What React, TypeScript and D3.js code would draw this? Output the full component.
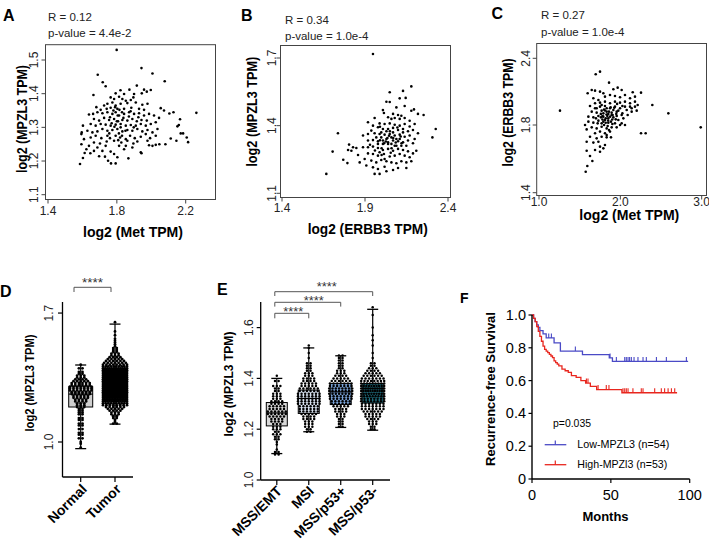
import React from 'react';
import * as d3 from 'd3';

const FONT = "'Liberation Sans', Arial, Helvetica, sans-serif";

// ---------------- Panel A: log2(Met TPM) vs log2(MPZL3 TPM)
const aXTicks = [1.4, 1.8, 2.2];
const aYTicks = [1.1, 1.2, 1.3, 1.4, 1.5];
const metVsMpzl3: [number, number][] = [
  [1.799,1.530],[1.943,1.476],[2.007,1.460],[1.689,1.456],[2.078,1.437],[1.718,1.434],[1.735,1.422],[1.916,1.424],
  [1.821,1.410],[1.873,1.412],[1.997,1.411],[1.958,1.412],[1.664,1.396],[1.974,1.406],[1.945,1.401],[1.900,1.399],
  [1.793,1.401],[1.842,1.399],[1.764,1.389],[1.784,1.384],[1.813,1.391],[1.832,1.384],[1.852,1.379],[1.881,1.381],
  [1.896,1.389],[1.774,1.374],[1.745,1.370],[1.726,1.365],[1.793,1.365],[1.822,1.370],[1.861,1.372],[1.910,1.374],
  [1.948,1.367],[1.978,1.370],[1.764,1.358],[1.706,1.352],[1.681,1.360],[2.055,1.357],[2.074,1.350],[1.803,1.355],
  [1.842,1.355],[1.884,1.358],[1.929,1.355],[1.958,1.352],[1.741,1.355],[1.638,1.338],[1.662,1.340],[1.687,1.345],
  [1.716,1.342],[1.745,1.345],[1.774,1.340],[1.793,1.345],[1.813,1.335],[1.842,1.340],[1.871,1.345],[1.900,1.340],
  [1.929,1.342],[1.958,1.335],[1.987,1.340],[2.016,1.335],[2.045,1.328],[2.105,1.341],[2.129,1.345],[2.262,1.343],
  [2.167,1.324],[1.667,1.325],[1.697,1.320],[1.726,1.328],[1.755,1.322],[1.784,1.325],[1.807,1.318],[1.832,1.322],
  [1.861,1.320],[1.890,1.325],[1.916,1.318],[1.943,1.322],[1.974,1.320],[1.997,1.310],[2.026,1.315],[1.603,1.305],
  [1.648,1.310],[1.677,1.305],[1.706,1.310],[1.735,1.308],[1.764,1.305],[1.793,1.308],[1.822,1.310],[1.852,1.305],
  [1.881,1.307],[1.910,1.305],[1.939,1.310],[1.968,1.305],[2.160,1.307],[1.596,1.285],[1.594,1.280],[1.629,1.290],
  [1.658,1.285],[1.687,1.288],[1.716,1.295],[1.745,1.290],[1.774,1.292],[1.803,1.295],[1.832,1.288],[1.861,1.292],
  [1.890,1.290],[1.919,1.295],[1.948,1.288],[1.978,1.292],[2.007,1.285],[2.036,1.295],[2.152,1.303],[2.171,1.282],
  [2.185,1.282],[1.609,1.265],[1.648,1.270],[1.677,1.275],[1.710,1.268],[1.745,1.275],[1.793,1.275],[1.819,1.270],
  [1.852,1.265],[1.877,1.275],[1.904,1.268],[1.939,1.272],[1.968,1.280],[1.993,1.268],[2.026,1.275],[2.113,1.267],
  [2.206,1.270],[1.594,1.250],[1.667,1.255],[1.702,1.252],[1.741,1.258],[1.784,1.260],[1.826,1.255],[1.861,1.260],
  [1.896,1.252],[1.919,1.258],[1.978,1.260],[2.146,1.260],[2.214,1.256],[1.623,1.235],[1.638,1.245],[1.687,1.240],
  [1.735,1.245],[1.813,1.245],[1.852,1.245],[1.890,1.240],[1.939,1.226],[1.943,1.223],[1.987,1.247],[2.007,1.245],
  [2.026,1.248],[2.047,1.250],[2.082,1.250],[1.613,1.224],[1.646,1.223],[1.697,1.214],[1.731,1.213],[1.749,1.201],
  [1.766,1.193],[1.793,1.193],[1.803,1.211],[1.867,1.208],[1.603,1.209],[1.586,1.191],[1.667,1.230],[1.764,1.228],
  [1.842,1.235],[1.716,1.230],[1.784,1.221],[1.805,1.335],[1.822,1.300],[1.800,1.318],[1.786,1.302],[1.760,1.330],
  [1.838,1.328],[1.812,1.282],[1.780,1.350],[1.830,1.345],[1.756,1.282],[1.870,1.332],[1.898,1.300],[1.925,1.330],
  [1.790,1.360],[1.815,1.352],[1.770,1.312],[1.850,1.290],[1.808,1.262],[1.830,1.275],[1.880,1.348],[1.760,1.268]
];

// ---------------- Panel B: log2(ERBB3 TPM) vs log2(MPZL3 TPM)
const bXTicks = [1.4, 1.9, 2.4];
const bYTicks = [1.1, 1.4, 1.7];
const erbb3VsMpzl3: [number, number][] = [
  [1.948,1.718],[2.179,1.574],[2.129,1.554],[2.049,1.548],[2.145,1.523],[2.109,1.521],[2.029,1.506],[2.049,1.505],
  [2.139,1.487],[2.089,1.481],[2.195,1.472],[2.179,1.466],[2.008,1.469],[2.014,1.456],[2.219,1.452],[2.253,1.447],
  [2.069,1.452],[2.099,1.447],[2.119,1.444],[1.958,1.434],[2.039,1.437],[2.059,1.430],[2.079,1.434],[2.109,1.430],
  [2.139,1.434],[2.169,1.422],[2.199,1.407],[1.918,1.415],[1.988,1.410],[2.018,1.407],[2.049,1.410],[2.079,1.404],
  [2.109,1.400],[2.139,1.407],[2.169,1.396],[2.326,1.385],[1.948,1.400],[1.978,1.393],[2.008,1.385],[2.039,1.385],
  [2.069,1.390],[2.099,1.381],[2.129,1.385],[2.159,1.375],[2.189,1.381],[2.219,1.366],[1.737,1.366],[1.888,1.356],
  [1.918,1.363],[1.958,1.366],[1.988,1.363],[2.018,1.360],[2.049,1.363],[2.079,1.356],[2.109,1.360],[2.139,1.351],
  [2.169,1.356],[2.199,1.341],[2.306,1.348],[1.918,1.334],[1.948,1.336],[1.978,1.331],[2.008,1.334],[2.039,1.326],
  [2.069,1.334],[2.099,1.331],[2.129,1.326],[2.159,1.334],[2.189,1.322],[1.804,1.316],[1.828,1.304],[1.848,1.301],
  [1.818,1.289],[1.798,1.292],[1.858,1.270],[1.888,1.304],[1.918,1.304],[1.948,1.307],[1.978,1.301],[2.008,1.292],
  [2.039,1.297],[2.069,1.289],[2.099,1.297],[2.129,1.292],[2.209,1.289],[2.189,1.277],[1.705,1.285],[1.918,1.277],
  [1.948,1.274],[1.978,1.267],[2.014,1.274],[2.049,1.263],[2.079,1.267],[2.109,1.274],[2.139,1.267],[2.169,1.260],
  [1.769,1.249],[1.794,1.234],[1.868,1.237],[1.898,1.252],[1.938,1.245],[1.968,1.237],[1.998,1.248],[2.029,1.242],
  [2.059,1.237],[2.089,1.233],[2.119,1.242],[2.149,1.237],[2.179,1.242],[1.908,1.223],[1.948,1.215],[1.978,1.208],
  [2.018,1.218],[2.069,1.203],[2.099,1.212],[2.149,1.212],[1.958,1.186],[1.988,1.186],[2.029,1.198],[1.667,1.186],
  [1.998,1.370],[2.029,1.375],[2.059,1.348],[2.089,1.341],[2.029,1.341],[2.008,1.319],[2.059,1.319],[2.089,1.311],
  [1.978,1.319],[2.119,1.311],[2.149,1.311],[1.998,1.348],[2.039,1.319],[2.069,1.370],[2.109,1.341],[1.938,1.378],
  [1.968,1.348],[2.129,1.370],[2.079,1.311],[2.018,1.252],[1.988,1.282],[2.159,1.286],[2.045,1.355],[2.025,1.330],
  [2.060,1.300],[2.000,1.300],[2.085,1.325],[2.115,1.352],[1.990,1.395],[2.055,1.280],[1.960,1.290],[2.095,1.392],
  [2.035,1.345],[2.015,1.322],[2.070,1.345],[1.990,1.335],[2.050,1.375],[2.000,1.270],[2.120,1.322],[1.930,1.315]
];

// ---------------- Panel C: log2(Met TPM) vs log2(ERBB3 TPM)
const cXTicks = [1.0, 2.0, 3.0];
const cYTicks = [1.4, 1.8, 2.4];
const metVsErbb3: [number, number][] = [
  [1.258,1.929],[1.697,2.256],[1.750,2.280],[1.861,2.181],[1.598,2.085],[1.648,2.115],[1.689,2.109],[1.750,2.100],
  [1.791,2.085],[1.914,2.121],[1.967,2.136],[2.016,2.115],[2.152,2.094],[2.254,2.091],[1.811,2.055],[1.873,2.070],
  [1.934,2.061],[1.996,2.049],[2.057,2.070],[2.119,2.040],[2.180,2.055],[1.668,2.040],[1.730,2.025],[1.689,1.995],
  [1.750,2.001],[1.811,2.010],[1.873,1.995],[1.934,2.010],[1.996,2.001],[2.057,2.010],[2.119,1.995],[2.180,2.010],
  [2.213,1.980],[2.393,1.980],[1.627,1.971],[1.689,1.950],[1.750,1.965],[1.811,1.971],[1.873,1.950],[1.934,1.965],
  [1.996,1.950],[2.057,1.965],[2.139,1.950],[2.201,1.929],[1.648,1.920],[1.709,1.911],[1.770,1.929],[1.832,1.920],
  [1.893,1.911],[1.955,1.920],[2.025,1.905],[2.090,1.890],[2.139,1.920],[2.590,1.905],[1.607,1.875],[1.668,1.869],
  [1.730,1.881],[1.791,1.875],[1.852,1.860],[1.914,1.869],[1.975,1.845],[2.037,1.860],[1.607,1.830],[1.668,1.821],
  [1.730,1.839],[1.791,1.830],[1.852,1.821],[1.934,1.815],[1.996,1.800],[2.057,1.800],[1.586,1.774],[1.648,1.786],
  [1.709,1.780],[1.770,1.790],[1.832,1.780],[1.893,1.786],[1.750,1.761],[1.811,1.751],[1.689,1.751],[1.627,1.731],
  [1.709,1.721],[1.770,1.731],[1.832,1.727],[1.885,1.727],[2.254,1.751],[2.311,1.751],[2.988,1.786],[1.586,1.701],
  [1.668,1.696],[1.730,1.701],[1.811,1.682],[1.750,1.672],[1.791,1.662],[1.689,1.652],[1.586,1.648],[1.750,1.642],
  [1.627,1.617],[1.656,1.587],[1.594,1.558],[1.574,1.524],[1.832,1.741],[1.873,1.761],[1.955,1.786],[2.016,1.815],
  [1.566,1.800],[1.770,1.815],[1.811,1.845],[1.893,1.890],[1.955,1.881],[2.016,1.890],[2.078,1.935],[2.119,1.965],
  [2.180,1.965],[1.832,1.950],[1.770,1.980],[1.709,1.950],[1.791,1.905],[1.852,1.899],[1.914,1.935],[1.820,1.860],
  [1.885,1.830],[1.943,1.851],[1.762,1.869],[1.844,1.794],[1.902,1.809],[1.975,1.929],[2.025,1.971],[1.721,1.815],
  [1.800,1.940],[1.860,1.920],[1.780,1.850],[1.840,1.880],[1.900,1.850],[1.820,1.820],[1.760,1.900],[1.880,1.960],
  [1.950,1.900],[1.700,1.860],[1.860,1.770],[1.800,1.800],[1.830,1.895],[1.875,1.875],[1.810,1.930],[1.850,1.840],
  [1.905,1.890],[1.780,1.880],[1.925,1.955],[1.960,1.990]
];

// ---------------- Panel D: Normal vs Tumor
const dGroups = ['Normal', 'Tumor'];
const dYTicks = [1.0, 1.7];
const dMin = [0.964, 1.097];
const dQ1 = [1.19, 1.26];
const dMed = [1.26, 1.32];
const dQ3 = [1.30, 1.38];
const dMax = [1.418, 1.64];
const dNormalBins: [number, number][] = [
  [1.42,1],[1.40,2],[1.38,2],[1.37,2],[1.36,3],[1.35,3],[1.34,4],[1.33,5],[1.32,6],[1.31,6],[1.30,7],[1.29,7],
  [1.28,7],[1.27,6],[1.26,6],[1.25,5],[1.24,5],[1.23,4],[1.22,4],[1.21,3],[1.20,3],[1.19,3],[1.18,2],[1.17,2],
  [1.16,2],[1.15,2],[1.13,2],[1.12,2],[1.10,2],[1.09,2],[1.07,2],[1.05,2],[1.04,2],[1.02,2],[1.00,1],[0.99,1],[0.97,1]
];
const dTumorBins: [number, number][] = [
  [1.10,2],[1.11,1],[1.12,1],[1.13,2],[1.14,2],[1.15,3],[1.16,3],[1.17,4],[1.18,5],[1.19,6],[1.20,8],[1.21,10],
  [1.22,12],[1.23,14],[1.24,16],[1.25,18],[1.26,20],[1.27,22],[1.28,24],[1.29,25],[1.30,26],[1.31,26],[1.32,26],
  [1.33,25],[1.34,24],[1.35,22],[1.36,20],[1.37,18],[1.38,16],[1.39,14],[1.40,12],[1.41,10],[1.42,8],[1.43,7],
  [1.44,6],[1.45,5],[1.46,4],[1.47,3],[1.48,3],[1.49,2],[1.50,2],[1.51,2],[1.52,1],[1.53,1],[1.54,1],[1.55,1],
  [1.56,1],[1.58,1],[1.60,1],[1.65,1]
];

// ---------------- Panel E: subtypes
const eGroups = ['MSS/EMT', 'MSI', 'MSS/p53+', 'MSS/p53-'];
const eYTicks = [1.0, 1.2, 1.4, 1.6];
const eMin = [1.104, 1.19, 1.207, 1.196];
const eQ1 = [1.213, 1.262, 1.297, 1.303];
const eMed = [1.264, 1.321, 1.347, 1.36];
const eQ3 = [1.305, 1.354, 1.38, 1.38];
const eMax = [1.40, 1.52, 1.489, 1.672];
const eFills = ['#d9d9d9', '#dce6f4', '#7aa3d8', '#23788a'];
const eEmtBins: [number, number][] = [
  [1.41,1],[1.39,2],[1.37,3],[1.36,2],[1.35,2],[1.34,3],[1.33,3],[1.32,3],[1.31,4],[1.30,4],[1.29,5],[1.28,5],
  [1.27,6],[1.26,6],[1.25,5],[1.24,4],[1.23,4],[1.22,3],[1.21,3],[1.20,3],[1.19,2],[1.18,3],[1.17,2],[1.16,2],
  [1.15,1],[1.14,1],[1.12,1],[1.11,2],[1.10,2]
];
const eMsiBins: [number, number][] = [
  [1.53,1],[1.52,1],[1.50,1],[1.48,1],[1.46,2],[1.45,2],[1.44,2],[1.43,2],[1.42,3],[1.41,3],[1.40,4],[1.39,4],
  [1.38,5],[1.37,5],[1.36,6],[1.35,6],[1.34,7],[1.33,7],[1.32,7],[1.31,7],[1.30,7],[1.29,6],[1.28,6],[1.27,6],
  [1.26,5],[1.25,4],[1.24,4],[1.23,3],[1.22,3],[1.21,3],[1.20,2],[1.19,2]
];
const eP53PosBins: [number, number][] = [
  [1.49,2],[1.48,2],[1.47,2],[1.46,2],[1.45,2],[1.44,2],[1.43,3],[1.42,3],[1.41,4],[1.40,5],[1.39,6],[1.38,7],
  [1.37,7],[1.36,8],[1.35,8],[1.34,8],[1.33,7],[1.32,7],[1.31,6],[1.30,6],[1.29,5],[1.28,4],[1.27,4],[1.26,3],
  [1.25,3],[1.24,2],[1.23,2],[1.22,2],[1.21,2]
];
const eP53NegBins: [number, number][] = [
  [1.68,1],[1.65,1],[1.60,1],[1.57,1],[1.55,1],[1.53,1],[1.50,1],[1.48,1],[1.46,2],[1.45,2],[1.44,3],[1.43,4],
  [1.42,5],[1.41,6],[1.40,7],[1.39,8],[1.38,9],[1.37,10],[1.36,11],[1.35,11],[1.34,10],[1.33,9],[1.32,8],[1.31,8],
  [1.30,7],[1.29,7],[1.28,7],[1.27,6],[1.26,5],[1.25,5],[1.24,4],[1.23,3],[1.22,3],[1.21,2],[1.20,2]
];

// ---------------- Panel F: Kaplan-Meier
const fXTicks = [0, 50, 100];
const fYTicks = [0, 0.2, 0.4, 0.6, 0.8, 1.0];
const lowTimes = [0, 1, 2, 3, 4, 5, 7, 9, 14, 18, 32, 49, 51];
const lowSurv = [1, 0.98, 0.96, 0.94, 0.925, 0.905, 0.885, 0.86, 0.83, 0.78, 0.758, 0.738, 0.717];
const lowEnd = 99;
const lowCensor = [10.6, 12.3, 27.5, 49.5, 53.5, 58.8, 59.8, 60.9, 61.9, 63, 64.7, 67.2, 70.4, 72.5, 78.9, 85.2, 97.9];
const highTimes = [0, 1, 2, 3, 4, 5, 6, 7, 8, 9, 10, 11, 12, 13, 14, 15, 16, 17, 19, 21, 23, 25, 28, 31, 34, 37, 41, 57];
const highSurv = [1, 0.98, 0.96, 0.93, 0.90, 0.87, 0.84, 0.81, 0.79, 0.78, 0.77, 0.76, 0.75, 0.74, 0.72, 0.71, 0.70, 0.69, 0.67, 0.66, 0.65, 0.63, 0.62, 0.60, 0.585, 0.565, 0.545, 0.526];
const highEnd = 92;
const highCensor = [34.5, 35.5, 41.9, 47.1, 48.8, 57.7, 58.8, 59.8, 60.9, 64, 69.3, 70.4, 77.8, 82, 84.1, 86.3, 88.4, 90.5];

const f1 = d3.format('.1f');

type ScatterCfg = {
  letter: string; letterX: number; letterY: number;
  r: string; p: string; statX: number; rY: number; pY: number;
  frame: [number, number, number, number];
  xDomain: number[]; xRange: number[]; yDomain: number[]; yRange: number[];
  xTicks: number[]; yTicks: number[]; points: [number, number][];
  xTickY: number; yTickX: number;
  xTitle: string; xTitleX: number; xTitleY: number; xTitleLen: number;
  yTitle: string; yTitleX: number; yTitleY: number; yTitleLen: number;
};

function Scatter({ c }: { c: ScatterCfg }) {
  const x = d3.scaleLinear().domain(c.xDomain).range(c.xRange);
  const y = d3.scaleLinear().domain(c.yDomain).range(c.yRange);
  const [fx0, fy0, fx1, fy1] = c.frame;
  return (
    <g>
      <text x={c.letterX} y={c.letterY} fontSize={16} fontWeight="bold">{c.letter}</text>
      <text x={c.statX} y={c.rY} fontSize={11.5} fill="#222">{c.r}</text>
      <text x={c.statX} y={c.pY} fontSize={11.5} fill="#222">{c.p}</text>
      <rect x={fx0} y={fy0} width={fx1 - fx0} height={fy1 - fy0} fill="none" stroke="#444" strokeWidth={1} />
      {c.xTicks.map((t) => (
        <g key={'x' + t}>
          <line x1={x(t)} x2={x(t)} y1={fy1} y2={fy1 + 4} stroke="#444" />
          <text x={x(t)} y={c.xTickY} fontSize={12} textAnchor="middle" fill="#222">{f1(t)}</text>
        </g>
      ))}
      {c.yTicks.map((t) => (
        <g key={'y' + t}>
          <line x1={fx0 - 4} x2={fx0} y1={y(t)} y2={y(t)} stroke="#444" />
          <text transform={`translate(${c.yTickX},${y(t)}) rotate(-90)`} fontSize={12} textAnchor="middle" fill="#222">{f1(t)}</text>
        </g>
      ))}
      {c.points.map((p, i) => (
        <circle key={i} cx={x(p[0])} cy={y(p[1])} r={1.3} fill="#000" />
      ))}
      <text x={c.xTitleX} y={c.xTitleY} fontSize={14} fontWeight="bold" textAnchor="middle"
        textLength={c.xTitleLen} lengthAdjust="spacingAndGlyphs">{c.xTitle}</text>
      <text transform={`translate(${c.yTitleX},${c.yTitleY}) rotate(-90)`} fontSize={14} fontWeight="bold"
        textAnchor="middle" textLength={c.yTitleLen} lengthAdjust="spacingAndGlyphs">{c.yTitle}</text>
    </g>
  );
}

function swarm(bins: [number, number][], maxW: number, sp: number) {
  const out: { dx: number; v: number }[] = [];
  bins.forEach(([v, n], k) => {
    const s = n > 1 ? Math.min(sp, maxW / (n - 1)) : 0;
    const shift = n > 1 && n % 2 === 1 && k % 2 === 1 ? s / 2 : 0;
    for (let i = 0; i < n; i++) out.push({ dx: (i - (n - 1) / 2) * s + shift * 0, v });
  });
  return out;
}

function BoxGroup({ cx, y, min, q1, med, q3, max, fill, bins, boxW, swarmW, dotR }: any) {
  const pts = swarm(bins, swarmW, 3.6);
  return (
    <g>
      <rect x={cx - boxW / 2} y={y(q3)} width={boxW} height={y(q1) - y(q3)} fill={fill} stroke="none" />
      <line x1={cx} x2={cx} y1={y(max)} y2={y(q3)} stroke="#000" strokeWidth={1.2} />
      <line x1={cx} x2={cx} y1={y(q1)} y2={y(min)} stroke="#000" strokeWidth={1.2} />
      {pts.map((p, i) => (
        <circle key={i} cx={cx + p.dx} cy={y(p.v)} r={dotR} fill="#000" />
      ))}
      <rect x={cx - boxW / 2} y={y(q3)} width={boxW} height={y(q1) - y(q3)} fill="none" stroke="#000" strokeWidth={1} />
      <line x1={cx - boxW / 2} x2={cx + boxW / 2} y1={y(med)} y2={y(med)} stroke="#000" strokeWidth={1.2} />
      <line x1={cx - 5.5} x2={cx + 5.5} y1={y(max)} y2={y(max)} stroke="#000" strokeWidth={1.3} />
      <line x1={cx - 5.5} x2={cx + 5.5} y1={y(min)} y2={y(min)} stroke="#000" strokeWidth={1.3} />
    </g>
  );
}

function PanelD() {
  const y = d3.scaleLinear().domain([0.81, 1.76]).range([477, 302]);
  const x = d3.scalePoint().domain(dGroups).range([80.7, 115]);
  const bins = [dNormalBins, dTumorBins];
  const fills = ['#cfcfcf', '#bdbdbd'];
  const ax = 62.5;
  return (
    <g>
      <text x={0} y={297} fontSize={16} fontWeight="bold">D</text>
      <line x1={74} x2={111} y1={287.3} y2={287.3} stroke="#555" />
      <line x1={74} x2={74} y1={287.3} y2={292} stroke="#555" />
      <line x1={111} x2={111} y1={287.3} y2={292} stroke="#555" />
      <text x={92.5} y={287} fontSize={12} textAnchor="middle" textLength={21} lengthAdjust="spacingAndGlyphs" fill="#333">****</text>
      <line x1={ax} x2={ax} y1={302} y2={477} stroke="#000" strokeWidth={1.3} />
      <line x1={ax} x2={133} y1={477} y2={477} stroke="#000" strokeWidth={1.3} />
      {dYTicks.map((t) => (
        <g key={t}>
          <line x1={ax - 4.5} x2={ax} y1={y(t)} y2={y(t)} stroke="#000" strokeWidth={1.2} />
          <text transform={`translate(53,${y(t)}) rotate(-90)`} fontSize={12} textAnchor="middle" fill="#222">{f1(t)}</text>
        </g>
      ))}
      {dGroups.map((g, i) => (
        <g key={g}>
          <line x1={x(g)!} x2={x(g)!} y1={477} y2={482} stroke="#000" strokeWidth={1.2} />
          <BoxGroup cx={x(g)!} y={y} min={dMin[i]} q1={dQ1[i]} med={dMed[i]} q3={dQ3[i]} max={dMax[i]}
            fill={fills[i]} bins={bins[i]} boxW={24} swarmW={24} dotR={1.4} />
          <text transform={`translate(${x(g)! + 7},${490}) rotate(-45)`} fontSize={14} fontWeight="bold" textAnchor="end">{g}</text>
        </g>
      ))}
      <text transform={`translate(34,383) rotate(-90)`} fontSize={13} fontWeight="bold" textAnchor="middle"
        textLength={97} lengthAdjust="spacingAndGlyphs">log2 (MPZL3 TPM)</text>
    </g>
  );
}

function PanelE() {
  const y = d3.scaleLinear().domain([1.0, 1.7]).range([480, 302.2]);
  const x = d3.scalePoint().domain(eGroups).range([276.8, 372.7]);
  const bins = [eEmtBins, eMsiBins, eP53PosBins, eP53NegBins];
  const ax = 260.7;
  const brackets = [
    { to: 1, y: 313.3, tail: 5, starY: 315.5, starDx: 1.5 },
    { to: 2, y: 302.3, tail: 4.3, starY: 305, starDx: 6 },
    { to: 3, y: 291.7, tail: 4.3, starY: 290.6, starDx: 3 },
  ];
  const x0 = x(eGroups[0])! - 2;
  return (
    <g>
      <text x={217} y={295} fontSize={16} fontWeight="bold">E</text>
      {brackets.map((b, i) => {
        const x1 = x(eGroups[b.to])!;
        return (
          <g key={i}>
            <line x1={x0} x2={x1} y1={b.y} y2={b.y} stroke="#555" />
            <line x1={x0} x2={x0} y1={b.y} y2={b.y + b.tail} stroke="#555" />
            <line x1={x1} x2={x1} y1={b.y} y2={b.y + b.tail} stroke="#555" />
            <text x={(x0 + x1) / 2 + b.starDx} y={b.starY} fontSize={12} textAnchor="middle" textLength={20}
              lengthAdjust="spacingAndGlyphs" fill="#333">****</text>
          </g>
        );
      })}
      <line x1={ax} x2={ax} y1={302} y2={480} stroke="#000" strokeWidth={1.3} />
      <line x1={ax} x2={390} y1={480} y2={480} stroke="#000" strokeWidth={1.3} />
      {eYTicks.map((t) => (
        <g key={t}>
          <line x1={ax - 4} x2={ax} y1={y(t)} y2={y(t)} stroke="#000" strokeWidth={1.2} />
          <text transform={`translate(252.5,${y(t)}) rotate(-90)`} fontSize={12} textAnchor="middle" fill="#222">{f1(t)}</text>
        </g>
      ))}
      {eGroups.map((g, i) => (
        <g key={g}>
          <line x1={x(g)!} x2={x(g)!} y1={480} y2={485} stroke="#000" strokeWidth={1.2} />
          <BoxGroup cx={x(g)!} y={y} min={eMin[i]} q1={eQ1[i]} med={eMed[i]} q3={eQ3[i]} max={eMax[i]}
            fill={eFills[i]} bins={bins[i]} boxW={21} swarmW={23} dotR={1.25} />
          <text transform={`translate(${x(g)! + 6},${492}) rotate(-45)`} fontSize={14} fontWeight="bold" textAnchor="end">{g}</text>
        </g>
      ))}
      <text transform={`translate(233,384) rotate(-90)`} fontSize={13} fontWeight="bold" textAnchor="middle"
        textLength={105} lengthAdjust="spacingAndGlyphs">log2 (MPZL3 TPM)</text>
    </g>
  );
}

function PanelF() {
  const x = d3.scaleLinear().domain([0, 100]).range([532, 689.7]);
  const y = d3.scaleLinear().domain([0, 1]).range([479, 315]);
  const blue = '#4a4ac6';
  const red = '#e8261e';
  const curve = (times: number[], surv: number[], end: number) => {
    const pts: [number, number][] = times.map((t, i) => [t, surv[i]]);
    pts.push([end, surv[surv.length - 1]]);
    return d3.line<[number, number]>().x((d) => x(d[0])).y((d) => y(d[1])).curve(d3.curveStepAfter)(pts)!;
  };
  const sAt = (times: number[], surv: number[], t: number) => surv[Math.max(0, d3.bisectRight(times, t) - 1)];
  const fmt = (t: number) => (t === 0 ? '0' : f1(t));
  return (
    <g>
      <text x={460} y={303} fontSize={14} fontWeight="bold">F</text>
      <path d={curve(lowTimes, lowSurv, lowEnd)} fill="none" stroke={blue} strokeWidth={1.3} />
      <path d={curve(highTimes, highSurv, highEnd)} fill="none" stroke={red} strokeWidth={1.3} />
      {lowCensor.map((t, i) => {
        const yy = y(sAt(lowTimes, lowSurv, t));
        return <line key={'lc' + i} x1={x(t)} x2={x(t)} y1={yy} y2={yy - 4.5} stroke={blue} strokeWidth={1.1} />;
      })}
      {highCensor.map((t, i) => {
        const yy = y(sAt(highTimes, highSurv, t));
        return <line key={'hc' + i} x1={x(t)} x2={x(t)} y1={yy} y2={yy - 4.5} stroke={red} strokeWidth={1.1} />;
      })}
      <line x1={532} x2={532} y1={315} y2={479} stroke="#000" strokeWidth={1.4} />
      <line x1={532} x2={689.7} y1={479} y2={479} stroke="#000" strokeWidth={1.4} />
      {fYTicks.map((t) => (
        <g key={t}>
          <line x1={528.5} x2={532} y1={y(t)} y2={y(t)} stroke="#000" strokeWidth={1.2} />
          <text x={526} y={y(t) + 5} fontSize={14.5} textAnchor="end">{fmt(t)}</text>
        </g>
      ))}
      {fXTicks.map((t) => (
        <g key={t}>
          <line x1={x(t)} x2={x(t)} y1={479} y2={483} stroke="#000" strokeWidth={1.2} />
          <text x={x(t)} y={500} fontSize={14.5} textAnchor="middle">{t}</text>
        </g>
      ))}
      <text x={605.5} y={520.7} fontSize={13} fontWeight="bold" textAnchor="middle">Months</text>
      <text transform={`translate(494.5,389) rotate(-90)`} fontSize={13} fontWeight="bold" textAnchor="middle">Recurrence-free Survival</text>
      <text x={553} y={427.3} fontSize={11} textLength={38} lengthAdjust="spacingAndGlyphs">p=0.035</text>
      <line x1={544.7} x2={566.3} y1={444.7} y2={444.7} stroke={blue} strokeWidth={1.3} />
      <line x1={555.3} x2={555.3} y1={444.7} y2={440.5} stroke={blue} strokeWidth={1.2} />
      <text x={577.3} y={448.3} fontSize={11} textLength={92} lengthAdjust="spacingAndGlyphs">Low-MPZL3 (n=54)</text>
      <line x1={544.7} x2={566.3} y1={464.7} y2={464.7} stroke={red} strokeWidth={1.3} />
      <line x1={555.3} x2={555.3} y1={464.7} y2={460.5} stroke={red} strokeWidth={1.2} />
      <text x={577.3} y={468.3} fontSize={11} textLength={90} lengthAdjust="spacingAndGlyphs">High-MPZl3 (n=53)</text>
    </g>
  );
}

export default function App() {
  const cfgA: ScatterCfg = {
    letter: 'A', letterX: 3, letterY: 20.5, r: 'R = 0.12', p: 'p-value = 4.4e-2', statX: 48, rY: 20.7, pY: 37,
    frame: [45.5, 44.7, 215.5, 199.5], xDomain: [1.4, 2.2], xRange: [48, 185.7], yDomain: [1.1, 1.5], yRange: [194.7, 60],
    xTicks: aXTicks, yTicks: aYTicks, points: metVsMpzl3, xTickY: 214.5, yTickX: 38.3,
    xTitle: 'log2 (Met TPM)', xTitleX: 133, xTitleY: 237, xTitleLen: 100,
    yTitle: 'log2 (MPZL3 TPM)', yTitleX: 27, yTitleY: 119, yTitleLen: 108,
  };
  const cfgB: ScatterCfg = {
    letter: 'B', letterX: 241, letterY: 20.5, r: 'R = 0.34', p: 'p-value = 1.0e-4', statX: 285, rY: 23.5, pY: 39.5,
    frame: [280.5, 45.5, 450.5, 197.5], xDomain: [1.4, 2.4], xRange: [282, 448], yDomain: [1.1, 1.7], yRange: [193.3, 58],
    xTicks: bXTicks, yTicks: bYTicks, points: erbb3VsMpzl3, xTickY: 211.5, yTickX: 276.3,
    xTitle: 'log2 (ERBB3 TPM)', xTitleX: 367.7, xTitleY: 234, xTitleLen: 120,
    yTitle: 'log2 (MPZL3 TPM)', yTitleX: 257, yTitleY: 111.7, yTitleLen: 110,
  };
  const cfgC: ScatterCfg = {
    letter: 'C', letterX: 491.5, letterY: 18.5, r: 'R = 0.27', p: 'p-value = 1.0e-4', statX: 541, rY: 19.3, pY: 36,
    frame: [536.7, 43.5, 706.5, 195.5], xDomain: [1.0, 3.0], xRange: [539, 701.7], yDomain: [1.4, 1.8, 2.4], yRange: [192.7, 125, 58.3],
    xTicks: cXTicks, yTicks: cYTicks, points: metVsErbb3, xTickY: 205.5, yTickX: 530.3,
    xTitle: 'log2 (Met TPM)', xTitleX: 629.3, xTitleY: 220, xTitleLen: 100,
    yTitle: 'log2 (ERBB3 TPM)', yTitleX: 512.5, yTitleY: 112.5, yTitleLen: 108,
  };
  return (
    <svg width={709} height={545} viewBox="0 0 709 545" fontFamily={FONT}
      style={{ position: 'absolute', left: 0, top: 0, display: 'block', background: '#fff' }}>
      <rect x={0} y={0} width={709} height={545} fill="#fff" />
      <Scatter c={cfgA} />
      <Scatter c={cfgB} />
      <Scatter c={cfgC} />
      <PanelD />
      <PanelE />
      <PanelF />
    </svg>
  );
}
